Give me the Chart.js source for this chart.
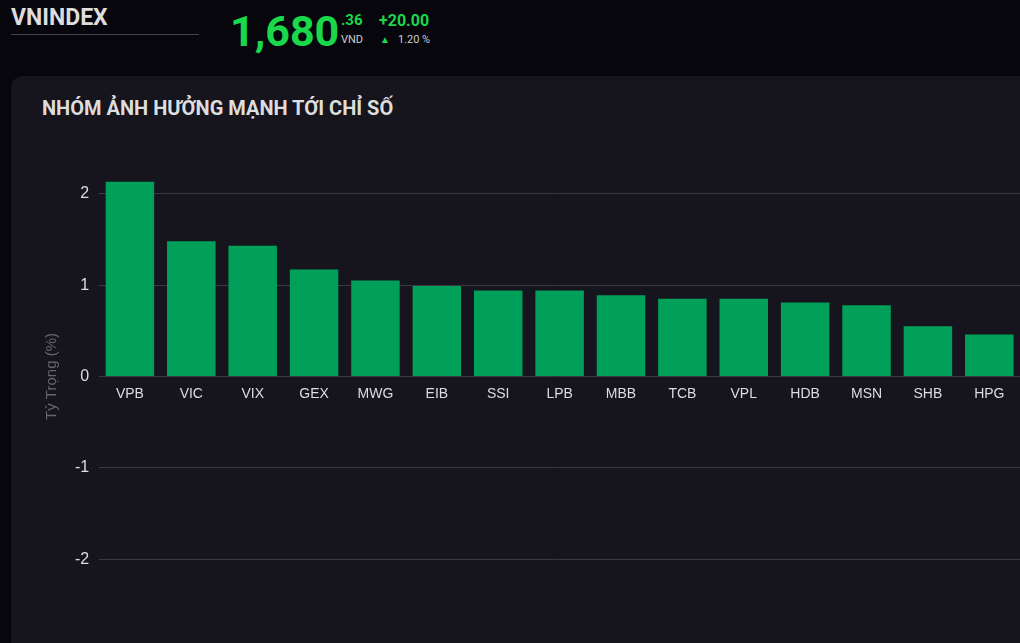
<!DOCTYPE html>
<html>
<head>
<meta charset="utf-8">
<script src="https://cdn.jsdelivr.net/npm/chart.js"></script>
<style>
  body { margin: 0; background: #07060d; font-family: Roboto, sans-serif; width: 1020px; height: 643px; overflow: hidden; position: relative; }
  .brand { position: absolute; left: 11px; top: 4px; width: 188px; border-bottom: 1px solid #444; color: #ddd; font-weight: bold; font-size: 23px; padding-bottom: 3px; }
  .price { position: absolute; left: 230px; top: 6px; color: #19d84a; font-size: 43px; font-weight: bold; }
  .dec { position: absolute; left: 341px; top: 11px; color: #19d84a; font-size: 15px; font-weight: bold; }
  .vnd { position: absolute; left: 341px; top: 33px; color: #ccc; font-size: 11px; }
  .chg { position: absolute; left: 379px; top: 11px; color: #19d84a; font-size: 16px; font-weight: bold; }
  .pct { position: absolute; left: 380px; top: 33px; color: #ccc; font-size: 11px; }
  .pct span { color: #19d84a; font-size: 10px; margin-right: 8px; }
  .panel { position: absolute; left: 11px; top: 76px; width: 1030px; height: 600px; background: #16141c; border-radius: 12px; }
  .title { position: absolute; left: 31px; top: 20px; color: #ddd; font-weight: bold; font-size: 20px; }
  .wrap { position: absolute; left: 28px; top: 52px; width: 981px; height: 500px; }
</style>
</head>
<body>
<div class="brand">VNINDEX</div>
<div class="price">1,680</div>
<div class="dec">.36</div>
<div class="vnd">VND</div>
<div class="chg">+20.00</div>
<div class="pct"><span>&#9650;</span>1.20 %</div>
<div class="panel">
  <div class="title">NHÓM ẢNH HƯỞNG MẠNH TỚI CHỈ SỐ</div>
  <div class="wrap"><canvas id="c"></canvas></div>
</div>
<script>
const tickers = ['VPB','VIC','VIX','GEX','MWG','EIB','SSI','LPB','MBB','TCB','VPL','HDB','MSN','SHB','HPG'];
const weights = [2.13, 1.48, 1.43, 1.17, 1.05, 0.99, 0.94, 0.94, 0.89, 0.85, 0.85, 0.81, 0.78, 0.55, 0.46];
const yTicks = [-2, -1, 0, 1, 2];

new Chart(document.getElementById('c'), {
  type: 'bar',
  data: {
    labels: tickers,
    datasets: [{ data: weights, backgroundColor: '#00a05a', categoryPercentage: 0.79, barPercentage: 1 }]
  },
  options: {
    responsive: true,
    maintainAspectRatio: false,
    animation: false,
    layout: { padding: { top: 20, bottom: 23, right: 0 } },
    plugins: { legend: { display: false }, tooltip: { enabled: false } },
    scales: {
      x: {
        position: { y: 0 },
        grid: { display: false },
        border: { display: false },
        ticks: { color: '#ddd', font: { size: 14, family: 'Liberation Sans' }, padding: 1 }
      },
      y: {
        min: -2.5, max: 2.5,
        afterBuildTicks: (axis) => { axis.ticks = yTicks.map(v => ({ value: v })); },
        grid: { color: '#3a3842', drawTicks: false },
        border: { display: false },
        ticks: { color: '#ddd', font: { size: 16, family: 'Liberation Sans' }, padding: 10 },
        title: { display: true, text: 'Tỷ Trọng (%)', color: '#666', font: { size: 15, family: 'Liberation Sans' } }
      }
    }
  }
});
</script>
</body>
</html>
